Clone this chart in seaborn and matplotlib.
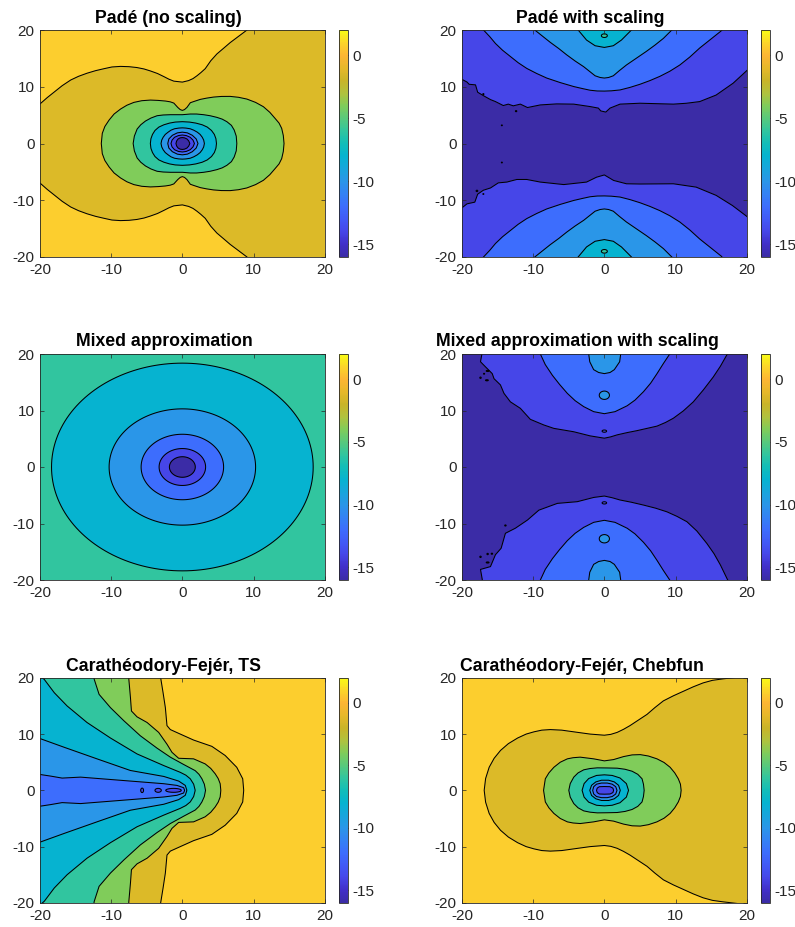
import numpy as np
import seaborn as sns
import matplotlib
matplotlib.use('Agg')
import matplotlib.pyplot as plt
from matplotlib.cm import ScalarMappable
from matplotlib.colors import Normalize

# colours and scale
band_colors = {-16: '#3B2CA6', -14: '#4646E8', -12: '#3D6DFD', -10: '#2A96E8', -8: '#06B3D0',
               -6: '#31C59F', -4: '#80CC5A', -2: '#DCBA28', 0: '#FCCE2E'}
bar_colors = ['#3B2CA6', '#412FC8', '#4646E8', '#425AF6', '#3D6DFD', '#3482F4', '#2A96E8', '#18A5DC',
              '#06B3D0', '#12BDB8', '#31C59F', '#58C97C', '#80CC5A', '#B0C23E', '#C9B428', '#E6B82A',
              '#FDB534', '#FCD52A', '#F9FB15']
bar_ticks = [-15, -10, -5, 0]
axis_ticks = [-20, -10, 0, 10, 20]

titles = ['Padé (no scaling)', 'Padé with scaling', 'Mixed approximation',
          'Mixed approximation with scaling', 'Carathéodory-Fejér, TS', 'Carathéodory-Fejér, Chebfun']

# Padé (no scaling): upper half of each contour, mirrored in y
pade_x0 = [40, 40, 12, 9.07, 7.9, 6.73, 5.8, 4.86, 4, 3.22, 2.6, 2.06, 1.5, 0.89, 0, -1.2, -1.9, -2.6, -3.5, -4.5, -5.4, -6.4, -7.5, -8.7, -9.9, -11, -12.2, -13.4, -14.6, -15.7, -16.9, -18, -19, -20, -22, -23]
pade_y0 = [0, 30, 24, 20, 18.9, 17.8, 16.8, 15.8, 14.6, 13.2, 12.5, 11.95, 11.45, 11.1, 10.83, 11, 11.35, 11.8, 12.35, 12.8, 13.15, 13.4, 13.55, 13.6, 13.5, 13.2, 12.85, 12.4, 11.85, 11.2, 10.2, 9.1, 8.1, 7, 4.5, 0]
pade_x2 = [14.3, 14.2, 13.97, 13.6, 13.04, 12.3, 11.4, 10.3, 9.07, 7.9, 6.73, 5.5, 4.39, 3.4, 2.52, 1.6, 1.12, 0.65, 0.3, 0, -0.3, -0.65, -1.2, -1.7, -2.38, -3.4, -4.49, -5.7, -6.82, -7.8, -8.69, -9.6, -10.3, -10.9, -11.26, -11.4]
pade_y2 = [0, 1.4, 2.67, 3.6, 4.43, 5.5, 6.49, 7.25, 7.84, 8.15, 8.31, 8.3, 8.19, 8, 7.78, 7.4, 7.19, 6.37, 5.98, 5.84, 5.98, 6.37, 7.13, 7.35, 7.49, 7.6, 7.66, 7.55, 7.25, 6.75, 6.08, 5.2, 4.14, 3, 1.79, 0]
pade_x4 = [7.66, 7.58, 7.29, 6.9, 6.26, 5.6, 4.86, 3.9, 2.99, 2, 1.12, 0, -0.9, -1.68, -2.7, -3.55, -4.4, -5.19, -5.85, -6.36, -6.75, -6.92]
pade_y4 = [0, 1.3, 2.38, 3.2, 3.85, 4.3, 4.61, 4.9, 5.08, 5.2, 5.2, 5.08, 5.08, 5.08, 5.03, 4.9, 4.5, 3.96, 3.3, 2.55, 1.3, 0]
pade_x6 = [4.8, 4.72, 4.5, 4.1, 3.5, 2.8, 1.9, 1, 0, -1, -1.8, -2.6, -3.3, -3.85, -4.2, -4.42, -4.5]
pade_y6 = [0, 0.85, 1.6, 2.3, 2.9, 3.3, 3.6, 3.78, 3.85, 3.78, 3.6, 3.3, 2.9, 2.3, 1.6, 0.85, 0]
pade_x8 = [3.1, 3.0, 2.8, 2.5, 2.1, 1.6, 1.1, 0.5, 0, -0.5, -1.1, -1.6, -2.0, -2.4, -2.7, -2.9, -3.0]
pade_y8 = [0, 0.6, 1.1, 1.6, 2.0, 2.35, 2.6, 2.72, 2.76, 2.72, 2.6, 2.35, 2.0, 1.6, 1.1, 0.6, 0]
pade_x10 = [2.2, 1.95, 1.4, 0.7, 0, -0.7, -1.4, -1.9, -2.05]
pade_y10 = [0, 0.8, 1.45, 1.88, 2.0, 1.88, 1.45, 0.8, 0]
pade_x12 = [1.7, 1.5, 1.1, 0.55, 0, -0.55, -1.1, -1.45, -1.6]
pade_y12 = [0, 0.6, 1.1, 1.4, 1.5, 1.4, 1.1, 0.6, 0]
pade_x14 = [1.05, 0.9, 0.65, 0.3, 0, -0.3, -0.6, -0.8, -0.9]
pade_y14 = [0, 0.45, 0.8, 1.0, 1.05, 1.0, 0.8, 0.45, 0]

# Padé with scaling: contours running across the panel, heights from y=0
pscale_x14_top = [-21, -19.9, -19.3, -19, -18.1, -17.8, -17, -16, -15.3, -14.2, -13.5, -12.8, -11.8, -10.8, -9, -6.7, -4.3, -2, -0.84, -0.5, 0.2, 0.8, 2.2, 5, 9.7, 11.5, 13.4, 15.7, 18.1, 20, 21]
pscale_y14_top = [11.6, 11.2, 10.8, 10.4, 10.3, 9, 8.4, 7.7, 7.35, 6.65, 6.9, 6.6, 6.9, 6.3, 6.76, 6.94, 6.9, 6.47, 6.2, 5.7, 5.5, 6.2, 6.9, 7.06, 6.9, 7.05, 7.35, 8.5, 10.6, 12.8, 14]
pscale_x14_bot = [-21, -19.9, -19.3, -18.2, -17.8, -17, -16, -14.9, -13.7, -12.3, -10.9, -9, -5.7, -2.5, -1.1, 0, 1.3, 3.1, 5, 9.7, 12.9, 15.7, 18, 20, 21]
pscale_y14_bot = [11.6, 11.2, 10.6, 10.3, 8.9, 8.2, 7.8, 6.9, 6.76, 6.3, 6.3, 6.76, 7.2, 6.76, 5.9, 5.5, 6.47, 7.06, 7.1, 7.06, 7.65, 9.1, 10.9, 12.8, 14]
pscale_x12 = [-18.5, -17, -16.1, -15.3, -14.3, -13.2, -12.1, -10.9, -9.5, -8.1, -6.2, -4.3, -3.1, -2, -1, 0, 1, 2.2, 3.6, 5, 6.4, 7.8, 9.2, 10.6, 12, 13.4, 14.9, 16.4, 18]
pscale_y12 = [22, 20, 18.8, 17.6, 16.4, 15.3, 14.2, 13.2, 12.3, 11.5, 10.7, 10, 9.65, 9.35, 9.22, 9.2, 9.25, 9.4, 9.85, 10.4, 11.05, 11.8, 12.7, 13.8, 15.2, 16.8, 18.3, 19.8, 22]
pscale_x10 = [-11, -9.8, -8.7, -7.6, -6.4, -5.3, -4.1, -2.9, -2, -1.3, -0.6, 0, 0.6, 1.26, 2.1, 3.1, 4.5, 5.9, 7.1, 8.3, 9.5, 11]
pscale_y10 = [21, 20, 18.9, 17.8, 16.7, 15.6, 14.5, 13.5, 12.6, 11.9, 11.6, 11.5, 11.6, 11.9, 12.8, 13.8, 15, 16.2, 17.3, 18.5, 20, 21.2]
pscale_x8 = [-4.5, -3.7, -2.5, -1.3, 0, 1.26, 2.4, 3.83, 4.7]
pscale_y8 = [21, 20, 18.2, 17.2, 16.9, 17.2, 18.2, 20, 21]

# Mixed approximation: contours are round
mixed_levels = [-6, -8, -10, -12, -14]
mixed_radii = [18.4, 10.3, 5.8, 3.27, 1.82]

# Mixed approximation with scaling
mscale_x14_top = [-17.3, -17.2, -17.4, -16.7, -15.75, -15.5, -14.6, -14.1, -13.2, -11.8, -10.4, -8.5, -7.1, -4.3, -2, 0, 0.9, 1.8, 3.2, 4.6, 6, 7.4, 8.6, 9.7, 11.1, 12.5, 13.9, 15.3, 16.3, 17.2, 17.9]
mscale_y14_top = [21, 20, 18.6, 17.7, 16.5, 15.6, 14.5, 13, 11.5, 10.35, 8.4, 7.4, 6.8, 6.2, 5.47, 5.06, 5.3, 5.65, 6.05, 6.4, 6.8, 7.2, 7.85, 8.6, 9.9, 11.5, 13.6, 15.9, 17.8, 19.8, 21]
mscale_x14_bot = [-17.2, -17.15, -17.4, -16, -15.3, -14.5, -13.9, -12.5, -10.8, -9.2, -6.6, -3.8, -1.5, 0, 1.1, 2.2, 3.8, 5.5, 7.2, 8.8, 10.2, 11.6, 13, 14.4, 15.4, 16.3, 17.3, 17.9]
mscale_y14_bot = [21, 19.9, 18.1, 17.6, 15.5, 14.35, 11.7, 10.8, 9.35, 7.6, 6.4, 6.1, 5.35, 5.1, 5.4, 5.8, 6.2, 6.7, 7.25, 7.9, 8.7, 9.65, 11.3, 13.5, 15.3, 17.3, 19.9, 21]
mscale_x12 = [-9.6, -9, -8.3, -7.3, -6.3, -5.2, -4.1, -2.9, -1.5, 0, 1.5, 3.2, 4.3, 5.5, 6.5, 7.4, 8.3, 9.2, 9.8]
mscale_y12 = [21, 20, 18.1, 16.2, 14.6, 13, 11.7, 10.65, 9.76, 9.4, 9.76, 10.8, 11.8, 13.3, 14.8, 16.5, 18.3, 20, 21]
mscale_x10 = [-2.25, -2.2, -2.05, -1.5, -0.8, 0, 0.8, 1.4, 2.15, 2.3, 2.3]
mscale_y10 = [21, 20, 18.6, 17.2, 16.7, 16.5, 16.7, 17.2, 18.6, 20, 21]

# Carathéodory-Fejér, TS
ts_x0 = [8.64, 8.5, 7.66, 6.03, 4.16, 1.59, -0.28, -1.68, -2.15, -2.38, -2.7, -3.04, -3, -40, -40]
ts_y0 = [0, 2.06, 4.1, 6.2, 7.82, 8.94, 10, 10.8, 11.5, 14.7, 17.35, 20, 30, 30, 0]
ts_x2 = [5.42, 5.33, 5.05, 4.63, 4.0, 3.22, 1.59, -0.51, -1.45, -2.15, -3.32, -4.95, -6.36, -7.15, -7.29, -7.52, -7.6, -40, -40]
ts_y2 = [0, 1.18, 2.1, 2.94, 3.9, 4.7, 5.6, 5.7, 6.76, 8.2, 10.3, 12.06, 13.06, 14.1, 16.5, 19.8, 30, 30, 0]
ts_x4 = [3.27, 3.1, 2.76, 2.35, 1.82, 0.19, -1.68, -3.55, -5.9, -8.2, -10.1, -11.7, -12.4, -13, -40, -40]
ts_y4 = [0, 1.1, 2.06, 2.85, 3.5, 4.6, 5.9, 7.5, 9.7, 12.35, 14.7, 17.06, 19.8, 30, 30, 0]
ts_x6 = [1.82, 1.6, 1.12, 0.5, -0.28, -2.6, -6.36, -10.1, -13.4, -16.2, -18, -19.4, -20.2, -25, -40, -40]
ts_y6 = [0, 1.1, 2.06, 2.7, 3.2, 4.4, 6.47, 9.3, 12.06, 15, 17.35, 19.7, 20.6, 30, 30, 0]
ts_x8 = [0.65, 0.42, -0.51, -2.6, -7.3, -12, -16.6, -20, -40, -40]
ts_y8 = [0, 0.88, 1.65, 2.47, 3.53, 5.6, 7.65, 9.2, 15, 0]
ts_x10 = [0.33, 0.19, -0.75, -2.6, -7.3, -12, -14.3, -16.9, -18.5, -20, -40, -40]
ts_y10 = [0, 0.47, 0.88, 1.18, 1.65, 2.12, 2.35, 2.18, 2.53, 2.82, 3, 0]

# Carathéodory-Fejér, Chebfun
cheb_x0 = [40, 40, 20, 16.6, 15.2, 13.9, 12.5, 11.1, 9.7, 8.3, 7.1, 6, 4.8, 3.6, 2.7, 1.8, 0.9, 0, -2, -4.3, -6, -7.6, -8.8, -9.9, -11, -12.2, -13.5, -14.6, -15.5, -16.2, -16.7, -16.9]
cheb_y0 = [0, 22, 20.3, 19.8, 19.55, 19.1, 18.4, 17.6, 16.8, 15.9, 14.7, 13.5, 12.5, 11.5, 10.85, 10.3, 9.95, 9.8, 10, 10.4, 10.7, 10.8, 10.7, 10.4, 10, 9.3, 8.3, 7.1, 5.7, 4.1, 2.1, 0]
cheb_x2 = [10.8, 10.7, 10.4, 9.9, 9.25, 8.4, 7.4, 6.2, 5.05, 3.9, 2.7, 1.3, 0, -1.5, -3.4, -4.4, -5.2, -6.2, -7.1, -7.8, -8.3, -8.55]
cheb_y2 = [0, 1.1, 2.06, 3.1, 4.1, 4.95, 5.6, 6.1, 6.35, 6.3, 6, 5.47, 5.24, 5.6, 5.9, 5.8, 5.6, 5, 4.1, 3.1, 2.06, 0]
cheb_x4 = [5.6, 5.5, 5.3, 4.7, 3.9, 2.9, 1.8, 0.4, -1, -2, -2.9, -3.7, -4.3, -4.8, -5]
cheb_y4 = [0, 1.1, 2.06, 2.85, 3.4, 3.75, 3.94, 3.98, 4, 3.88, 3.65, 3.1, 2.35, 1.2, 0]
cheb_x6 = [3.4, 3.1, 2.2, 1.1, 0, -1.1, -2.2, -2.85, -3.13]
cheb_y6 = [0, 1.2, 2.2, 2.65, 2.76, 2.65, 2.1, 1.2, 0]
cheb_x8 = [2.24, 2.0, 1.4, 0.6, -0.4, -1.2, -1.8, -2.05]
cheb_y8 = [0, 0.9, 1.5, 1.8, 1.8, 1.5, 0.9, 0]
cheb_x10 = [1.78, 1.6, 1.1, 0.4, -0.4, -1.1, -1.5, -1.64]
cheb_y10 = [0, 0.65, 1.1, 1.3, 1.3, 1.1, 0.65, 0]
cheb_x12 = [1.3, 1.2, 0.8, 0, -0.7, -1.0, -1.1]
cheb_y12 = [0, 0.4, 0.65, 0.68, 0.65, 0.4, 0]

# small closed contours: centre x, centre y, half width, half height, band inside
pscale_isl = [(0, 19, 0.42, 0.32, -6), (0, -19, 0.42, 0.32, -6), (-17, 8.7, 0.08, 0.1, -16),
              (-12.4, 5.7, 0.1, 0.1, -16), (-14.4, 3.2, 0.07, 0.07, -16), (-14.4, -3.35, 0.07, 0.07, -16),
              (-17.9, -8.35, 0.12, 0.12, -16), (-17, -8.9, 0.07, 0.07, -16)]
mscale_isl = [(0, 12.7, 0.72, 0.74, -10), (0, -12.7, 0.72, 0.74, -10), (0, 6.35, 0.32, 0.2, -14), (0, -6.35, 0.32, 0.2, -14),
              (-17.4, 15.8, 0.1, 0.12, -16), (-16.9, 16.5, 0.08, 0.08, -16), (-16.4, 17, 0.2, 0.1, -16),
              (-16.5, 15.35, 0.2, 0.1, -16), (-13.9, -10.35, 0.1, 0.1, -16), (-17.4, -15.9, 0.1, 0.12, -16),
              (-16.4, -15.4, 0.1, 0.12, -16), (-15.8, -15.35, 0.1, 0.1, -16), (-16.4, -16.9, 0.2, 0.1, -16)]
ts_isl = [(-5.65, 0, 0.2, 0.4, -14), (-3.4, 0, 0.45, 0.35, -14), (-1.24, 0, 1.1, 0.35, -14)]

sns.set_style('white')
plt.rcParams['font.family'] = ['Liberation Sans', 'DejaVu Sans']
plt.rcParams['axes.unicode_minus'] = False
parula = sns.blend_palette(bar_colors, n_colors=256, as_cmap=True)
dark = '#262626'


def fill_band(ax, xs, ys, far_x, far_y, level, band):
    # two rows of a grid: the contour itself at its level, and the far side of it
    xs = np.asarray(xs, float)
    ys = np.asarray(ys, float)
    side = 1 if band >= level else -1
    X = np.vstack([xs, np.full_like(xs, far_x) if np.isscalar(far_x) else far_x])
    Y = np.vstack([ys, np.full_like(ys, far_y)])
    Z = np.vstack([np.full_like(xs, level), np.full_like(xs, level + side)])
    ax.contourf(X, Y, Z, levels=[band, band + 2], colors=[band_colors[band]], antialiased=True)
    ax.contour(X, Y, Z, levels=[level + side * 1e-3], colors='k', linewidths=0.75, linestyles='solid')


def closed(ax, xs, ys, level, far_x=0.0):
    xs = list(xs)
    ys = list(ys)
    full_x = xs + xs[-2::-1]
    full_y = ys + [-v for v in ys[-2::-1]]
    fill_band(ax, full_x, full_y, far_x, 0.0, level, level - 2)


def across(ax, xs, ys, level, sign=1):
    fill_band(ax, xs, [sign * v for v in ys], np.asarray(xs, float), sign * 45.0, level, level)


def islands(ax, items):
    t = np.linspace(0, 2 * np.pi, 25)
    for cx, cy, rx, ry, band in items:
        level = band + 2 if band == -16 else band
        fill_band(ax, cx + rx * np.cos(t), cy + ry * np.sin(t), float(cx), float(cy), level, band)


fig = plt.figure(figsize=(7.95, 9.27), dpi=100)
lefts = [40, 462]
tops = [30, 354, 677.7]
bottoms = [257, 580, 903]
title_x = [168, 590.7, 164, 577, 163, 581.6]
title_y = [23, 23, 346, 346, 671, 671]
axes = []
for r in range(3):
    for c in range(2):
        ax = fig.add_axes([lefts[c] / 795, 1 - bottoms[r] / 927, 284.7 / 795, (bottoms[r] - tops[r]) / 927])
        cax = fig.add_axes([(lefts[c] + 298.5) / 795, 1 - bottoms[r] / 927, 9.5 / 795, (bottoms[r] - tops[r]) / 927])
        cb = fig.colorbar(ScalarMappable(Normalize(-16, 2), parula), cax=cax)
        cb.set_ticks(bar_ticks)
        cb.ax.tick_params(direction='in', length=2.5, width=0.5, labelsize=11, colors=dark, pad=3, right=True)
        cb.outline.set_linewidth(0.6)
        cb.outline.set_edgecolor(dark)
        axes.append(ax)

ax = axes[0]
ax.set_facecolor(band_colors[0])
for lv, xs, ys in [(0, pade_x0, pade_y0), (-2, pade_x2, pade_y2), (-4, pade_x4, pade_y4), (-6, pade_x6, pade_y6),
                   (-8, pade_x8, pade_y8), (-10, pade_x10, pade_y10), (-12, pade_x12, pade_y12), (-14, pade_x14, pade_y14)]:
    closed(ax, xs, ys, lv)

ax = axes[1]
ax.set_facecolor(band_colors[-16])
across(ax, pscale_x14_top, pscale_y14_top, -14, 1)
across(ax, pscale_x14_bot, pscale_y14_bot, -14, -1)
for lv, xs, ys in [(-12, pscale_x12, pscale_y12), (-10, pscale_x10, pscale_y10), (-8, pscale_x8, pscale_y8)]:
    across(ax, xs, ys, lv, 1)
    across(ax, xs, ys, lv, -1)
islands(ax, pscale_isl)

ax = axes[2]
ax.set_facecolor(band_colors[-6])
theta = np.linspace(0, 2 * np.pi, 181)
for lv, rad in zip(mixed_levels, mixed_radii):
    fill_band(ax, rad * np.cos(theta), rad * np.sin(theta), 0.0, 0.0, lv, lv - 2)

ax = axes[3]
ax.set_facecolor(band_colors[-16])
across(ax, mscale_x14_top, mscale_y14_top, -14, 1)
across(ax, mscale_x14_bot, mscale_y14_bot, -14, -1)
for lv, xs, ys in [(-12, mscale_x12, mscale_y12), (-10, mscale_x10, mscale_y10)]:
    across(ax, xs, ys, lv, 1)
    across(ax, xs, ys, lv, -1)
islands(ax, mscale_isl)

ax = axes[4]
ax.set_facecolor(band_colors[0])
for lv, xs, ys in [(0, ts_x0, ts_y0), (-2, ts_x2, ts_y2), (-4, ts_x4, ts_y4), (-6, ts_x6, ts_y6),
                   (-8, ts_x8, ts_y8), (-10, ts_x10, ts_y10)]:
    closed(ax, xs, ys, lv, far_x=-10.0)
islands(ax, ts_isl)

ax = axes[5]
ax.set_facecolor(band_colors[0])
for lv, xs, ys in [(0, cheb_x0, cheb_y0), (-2, cheb_x2, cheb_y2), (-4, cheb_x4, cheb_y4), (-6, cheb_x6, cheb_y6),
                   (-8, cheb_x8, cheb_y8), (-10, cheb_x10, cheb_y10), (-12, cheb_x12, cheb_y12)]:
    closed(ax, xs, ys, lv)

for i, ax in enumerate(axes):
    ax.set_xlim(-20, 20)
    ax.set_ylim(-20, 20)
    ax.set_xticks(axis_ticks)
    ax.set_yticks(axis_ticks)
    ax.tick_params(direction='in', length=2.8, width=0.5, labelsize=11, colors=dark, top=True, right=True,
                   bottom=True, left=True)
    ax.tick_params(axis='x', pad=4)
    ax.tick_params(axis='y', pad=4)
    for s in ax.spines.values():
        s.set_linewidth(0.6)
        s.set_edgecolor(dark)
        s.set_zorder(5)
    ax.set_axisbelow(False)
    fig.text(title_x[i] / 795, 1 - title_y[i] / 927, titles[i], ha='center', va='baseline',
             fontsize=12.7, fontweight='bold', color='black')

fig.savefig('out.png', dpi=100)
